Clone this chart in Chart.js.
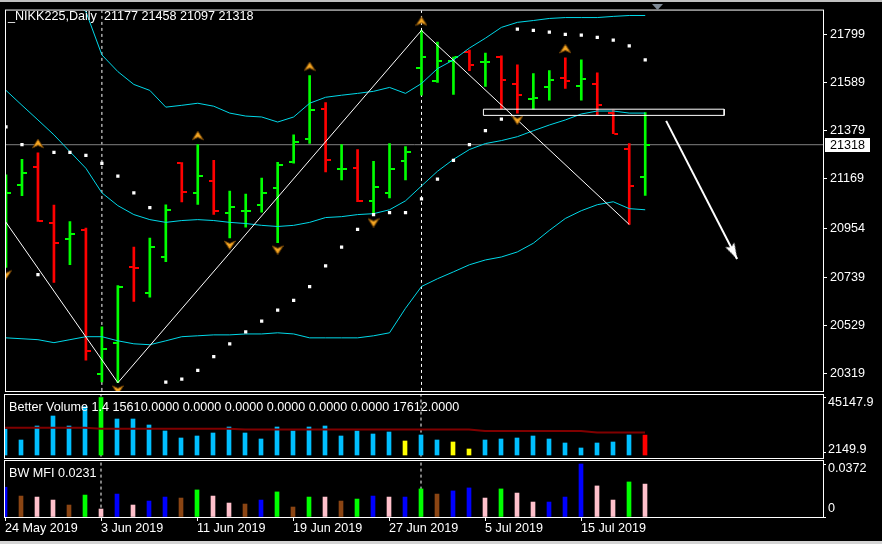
<!DOCTYPE html>
<html><head><meta charset="utf-8">
<script src="https://cdn.jsdelivr.net/npm/chart.js@4.4.1/dist/chart.umd.min.js"></script>
<style>
html,body{margin:0;padding:0;background:#000;}
#wrap{position:relative;width:882px;height:544px;background:#000;overflow:hidden;}
canvas{position:absolute;left:0;top:0;}
</style></head><body>
<div id="wrap">
<canvas id="cMain" width="882" height="544"></canvas>
<canvas id="cVol" width="882" height="544"></canvas>
<canvas id="cMfi" width="882" height="544"></canvas>
</div>
<script>
// ---------------- DATA ----------------
const symbol = '_NIKK225,Daily';
const dateTickIdx = [0, 6, 12, 18, 24, 30, 36];
const dateTickLabels = ['24 May 2019','3 Jun 2019','11 Jun 2019','19 Jun 2019','27 Jun 2019','5 Jul 2019','15 Jul 2019'];
const priceTicks = [21799, 21589, 21379, 21169, 20954, 20739, 20529, 20319];

const opens  = [20950,21141,21222,20976,20907,20945,20316,20452,20784,20669,20828,21238,21109,21161,21022,21027,21053,21130,21242,21341,21476,21211,21215,21073,21106,21245,21654,21598,21684,21722,21678,21701,21581,21519,21568,21611,21576,21585,21456,21301,21177];
const highs  = [21186,21254,21283,21055,20983,20954,20523,20703,20871,20910,21056,21240,21318,21250,21116,21103,21172,21241,21361,21620,21502,21318,21297,21245,21323,21310,21817,21766,21701,21731,21718,21706,21667,21628,21641,21697,21688,21632,21469,21323,21458];
const lows   = [20782,21096,20983,20717,20794,20378,20283,20279,20634,20653,20808,21068,21057,21014,20911,20958,21023,20890,21237,21324,21199,21164,21069,21009,21086,21164,21534,21590,21538,21641,21572,21474,21456,21473,21512,21564,21512,21447,21366,20970,21097];
const closes = [21108,21195,20984,20890,20928,20418,20425,20695,20780,20872,21031,21113,21182,21027,21044,21029,21109,21228,21328,21470,21251,21213,21073,21133,21211,21288,21701,21684,21700,21667,21680,21602,21534,21521,21602,21594,21606,21490,21366,21138,21318];

const bbUpper  = [22054,22033,22011,21985,21951,21899,21710,21637,21581,21555,21482,21490,21499,21486,21456,21443,21439,21417,21439,21499,21525,21534,21542,21551,21568,21542,21585,21650,21688,21740,21783,21830,21852,21860,21869,21873,21873,21873,21878,21882,21882];
const bbMiddle = [21555,21490,21426,21361,21288,21215,21108,21052,21013,20991,20979,20987,20991,20987,20979,20974,20966,20961,20966,20979,21000,21004,21013,21017,21034,21073,21138,21202,21254,21297,21323,21336,21353,21379,21404,21426,21452,21465,21465,21456,21456];
const bbLower  = [20475,20471,20467,20454,20467,20480,20480,20462,20449,20445,20462,20480,20484,20488,20488,20492,20492,20497,20492,20475,20475,20475,20475,20484,20497,20604,20699,20733,20763,20794,20815,20828,20850,20888,20944,20996,21030,21056,21069,21039,21034];
const sar      = [21396,21318,20751,21284,21284,21271,21237,21181,21108,21043,20282,20295,20333,20393,20449,20501,20548,20596,20639,20699,20789,20871,20948,21013,21022,21022,21082,21168,21250,21318,21379,21430,21822,21817,21809,21800,21796,21787,21774,21749,21688];

const zigzagIdx   = [-3, 7, 26, 39];
const zigzagPrice = [21279, 20279, 21817, 20970];
const fractalUpIdx   = [2, 12, 19, 26, 35];
const fractalDownIdx = [0, 7, 14, 17, 23, 32];
const separatorIdx = [6, 26];
const boxIdx   = [29.875, 44.94];
const boxPrice = [21473, 21446];
const arrowIdx   = [41.31, 45.75];
const arrowPrice = [21422, 20819];

const betterVolume = [20415,11778,22771,30623,22771,37925,45148,28267,28267,23556,18845,13348,14919,17274,21986,17274,12563,21986,18845,21986,22771,14919,18845,16489,18060,10993,15704,11778,10208,4711,11778,12563,13348,14919,12563,9422,5496,9422,10208,15704,15610];
const betterVolumeAvg = [21436,21436,21436,21436,21436,21436,20651,20651,20651,20651,20651,20651,20651,20651,20651,20023,20023,20023,20023,20023,20023,20023,20023,20023,20023,20023,20023,20023,20023,20023,18845,18845,18845,18845,18845,18845,18845,17612,17612,17612,17612];
const betterVolumeType = 'BBBBBBGBBBBBBBBBBBBBBBBBBYBBYYBBBBBBBBBBR'.split('');
const volScaleValues = [45147.9, 2149.9];
const volScaleLabels = ['45147.9', '2149.9'];

const mfi = [0.0209,0.0147,0.0140,0.0119,0.0084,0.0154,0.0056,0.0161,0.0084,0.0112,0.0140,0.0133,0.0190,0.0147,0.0098,0.0091,0.0119,0.0176,0.0070,0.0140,0.0140,0.0112,0.0126,0.0147,0.0140,0.0140,0.0197,0.0161,0.0183,0.0204,0.0133,0.0197,0.0168,0.0105,0.0105,0.0140,0.0372,0.0218,0.0119,0.0246,0.0231];
const mfiType = 'KFSSFGSKSKKFGSSFKGFGSFGKSKGFKKSGSSKKKSSGS'.split('');
const mfiScaleValues = [0.0372, 0];
const mfiScaleLabels = ['0.0372', '0'];

// ---------------- STYLE ----------------
const FONT = 'Liberation Sans';
const FS = 12.6;
Chart.defaults.font.family = FONT;
Chart.defaults.font.size = FS;
Chart.defaults.color = '#ffffff';
const X_MIN = 0, X_MAX = 51.125;
const UP = '#00ff00', DN = '#ff0000', BAND = '#00d8e8';
const volColors = {B:'#00bfff', G:'#00ff00', Y:'#ffff00', R:'#ff0000'};
const mfiColors = {G:'#00ff00', F:'#8b4513', K:'#0000ff', S:'#ffc0cb'};

const idx = opens.map((_, i) => i);
const last = opens.length - 1;
const isUp = i => closes[i] >= opens[i];

function mk(w, h, fn) { const c = document.createElement('canvas'); c.width = w; c.height = h; fn(c.getContext('2d')); return c; }
const tickImg = {
  upL: mk(10, 2, g => { g.fillStyle = UP; g.fillRect(0, 0, 4, 2); }),
  upR: mk(10, 2, g => { g.fillStyle = UP; g.fillRect(6, 0, 4, 2); }),
  dnL: mk(10, 2, g => { g.fillStyle = DN; g.fillRect(0, 0, 4, 2); }),
  dnR: mk(10, 2, g => { g.fillStyle = DN; g.fillRect(6, 0, 4, 2); })
};
function arrowShape(g, pts) {
  g.beginPath(); g.moveTo(pts[0][0], pts[0][1]);
  for (let k = 1; k < pts.length; k++) g.lineTo(pts[k][0], pts[k][1]);
  g.closePath();
  g.fillStyle = '#f5a623'; g.fill();
  g.strokeStyle = '#7a4a08'; g.lineWidth = 1; g.stroke();
}
const fracUpImg = mk(12, 28, g => arrowShape(g, [[6,0.5],[11.5,9],[6,6.5],[0.5,9]]));
const fracDnImg = mk(12, 24, g => arrowShape(g, [[6,23.5],[11.5,15],[6,17.5],[0.5,15]]));
const arrowHeadImg = mk(12, 36, g => {
  g.beginPath(); g.moveTo(6, 18); g.lineTo(11, 34); g.lineTo(6, 31); g.lineTo(1, 34); g.closePath();
  g.fillStyle = '#ffffff'; g.fill();
});

function xScale(show) {
  const s = { type: 'linear', min: X_MIN, max: X_MAX, offset: false, display: show,
    grid: { offset: false, drawOnChartArea: false, drawTicks: true, tickLength: 4, color: '#ffffff' },
    border: { display: false } };
  if (show) {
    s.afterBuildTicks = sc => { sc.ticks = dateTickIdx.map(v => ({ value: v })); };
    s.afterFit = sc => { sc.height = 27; };
    s.ticks = { align: 'start', padding: 0, maxRotation: 0, autoSkip: false, color: '#ffffff',
      font: { family: FONT, size: FS }, callback: (v, i) => dateTickLabels[i] };
  }
  return s;
}
function separators(yLo, yHi) {
  return separatorIdx.map(s => ({ type: 'line', data: [{x: s, y: yLo}, {x: s, y: yHi}], borderColor: '#ffffff',
    borderWidth: 1, borderDash: [3, 3], pointRadius: 0, order: 100 }));
}
function frame(ctx, a) {
  ctx.strokeStyle = '#ffffff'; ctx.lineWidth = 1;
  ctx.strokeRect(a.left - 0.5, a.top - 0.5, a.right - a.left + 1, a.bottom - a.top + 1);
}
const baseOpts = { responsive: false, maintainAspectRatio: false, animation: false, events: [],
  plugins: { legend: { display: false }, tooltip: { enabled: false } } };

// ---------------- MAIN CHART ----------------
const title = `${symbol}  ${opens[last]} ${highs[last]} ${lows[last]} ${closes[last]}`;
const mainPlugin = {
  id: 'mainDecor',
  afterDraw(chart) {
    const { ctx, chartArea: a, scales: { y } } = chart;
    ctx.save();
    // window edges
    ctx.fillStyle = '#c0c0c0'; ctx.fillRect(0, 0, 882, 2);
    ctx.fillStyle = '#d4d4d4'; ctx.fillRect(0, 541, 882, 3);
    frame(ctx, a);
    ctx.font = `${FS}px ${FONT}`; ctx.fillStyle = '#ffffff'; ctx.textBaseline = 'alphabetic'; ctx.textAlign = 'left';
    ctx.fillText(title, 8, 19.5);
    // chart-shift marker
    ctx.fillStyle = '#7f8a96';
    ctx.beginPath(); ctx.moveTo(652, 4); ctx.lineTo(663, 4); ctx.lineTo(657.5, 10); ctx.closePath(); ctx.fill();
    // current price label
    const py = y.getPixelForValue(closes[last]);
    ctx.fillStyle = '#ffffff'; ctx.fillRect(825, Math.round(py) - 7, 45, 14);
    ctx.fillStyle = '#000000'; ctx.textBaseline = 'middle';
    ctx.fillText(String(closes[last]), 830, py + 0.5);
    ctx.restore();
  }
};
new Chart(document.getElementById('cMain'), {
  type: 'bar',
  data: { datasets: [
    ...separators(0, 99999),
    { type: 'line', data: [{x: -5, y: closes[last]}, {x: 80, y: closes[last]}], borderColor: '#808080', borderWidth: 1, pointRadius: 0, order: 95 },
    { type: 'bar', data: idx.map(i => ({ x: i, y: [lows[i], highs[i]] })), backgroundColor: idx.map(i => isUp(i) ? UP : DN),
      barThickness: 2, borderWidth: 0, order: 80 },
    { type: 'line', showLine: false, data: idx.map(i => ({ x: i, y: opens[i] })), pointRadius: 1,
      pointStyle: c => isUp(c.dataIndex) ? tickImg.upL : tickImg.dnL, order: 79 },
    { type: 'line', showLine: false, data: idx.map(i => ({ x: i, y: closes[i] })), pointRadius: 1,
      pointStyle: c => isUp(c.dataIndex) ? tickImg.upR : tickImg.dnR, order: 78 },
    ...[bbUpper, bbMiddle, bbLower].map(arr => ({ type: 'line', data: idx.map(i => ({ x: i, y: arr[i] })),
      borderColor: BAND, borderWidth: 1, pointRadius: 0, tension: 0, order: 70 })),
    { type: 'line', data: zigzagIdx.map((x, k) => ({ x, y: zigzagPrice[k] })), borderColor: '#ffffff', borderWidth: 1, pointRadius: 0, order: 60 },
    { type: 'line', showLine: false, data: idx.map(i => ({ x: i, y: sar[i] })), pointStyle: 'rect', pointRadius: 2.3,
      pointBackgroundColor: '#ffffff', pointBorderWidth: 0, order: 50 },
    { type: 'line', showLine: false, data: fractalUpIdx.map(i => ({ x: i, y: highs[i] })), pointStyle: fracUpImg, pointRadius: 1, order: 40 },
    { type: 'line', showLine: false, data: fractalDownIdx.map(i => ({ x: i, y: lows[i] })), pointStyle: fracDnImg, pointRadius: 1, order: 40 },
    { type: 'line', data: [
        {x: boxIdx[0], y: boxPrice[0]}, {x: boxIdx[1], y: boxPrice[0]}, {x: boxIdx[1], y: boxPrice[1]},
        {x: boxIdx[0], y: boxPrice[1]}, {x: boxIdx[0], y: boxPrice[0]}],
      borderColor: '#ffffff', borderWidth: 1, pointRadius: 0, order: 30 },
    { type: 'line', data: arrowIdx.map((x, k) => ({ x, y: arrowPrice[k] })), borderColor: '#ffffff', borderWidth: 2,
      pointRadius: c => c.dataIndex === 1 ? 1 : 0,
      pointStyle: c => c.dataIndex === 1 ? arrowHeadImg : 'circle',
      pointRotation: c => {
        const xs = c.chart.scales.x, ys = c.chart.scales.y;
        const dx = xs.getPixelForValue(arrowIdx[1]) - xs.getPixelForValue(arrowIdx[0]);
        const dy = ys.getPixelForValue(arrowPrice[1]) - ys.getPixelForValue(arrowPrice[0]);
        return Math.atan2(dx, -dy) * 180 / Math.PI;
      }, order: 20 }
  ] },
  options: { ...baseOpts,
    layout: { padding: { left: 5, top: 5, right: 0, bottom: 153 } },
    scales: {
      x: xScale(false),
      y: { type: 'linear', position: 'right', min: 20243, max: 21903.5,
        afterFit: s => { s.width = 59; },
        afterBuildTicks: s => { s.ticks = priceTicks.map(v => ({ value: v })); },
        ticks: { padding: 3, crossAlign: 'near', autoSkip: false, color: '#ffffff', font: { family: FONT, size: FS }, callback: v => String(v) },
        grid: { drawOnChartArea: false, drawTicks: true, tickLength: 4, color: '#ffffff' },
        border: { display: false } }
    } },
  plugins: [mainPlugin]
});

// ---------------- SUB-WINDOW HELPERS ----------------
function subPlugin(name, text, vals, labels) {
  return { id: name, afterDraw(chart) {
    const { ctx, chartArea: a, scales: { y } } = chart;
    ctx.save(); frame(ctx, a);
    ctx.font = `${FS}px ${FONT}`; ctx.fillStyle = '#ffffff'; ctx.textAlign = 'left';
    ctx.textBaseline = 'alphabetic'; ctx.fillText(text, 9, a.top + 15.5);
    ctx.textBaseline = 'middle';
    vals.forEach((v, k) => {
      const p = Math.min(Math.max(y.getPixelForValue(v), a.top + 8), a.bottom - 8);
      ctx.fillText(labels[k], 828, p);
    });
    ctx.restore();
  } };
}
function subY(min, max, vals) {
  return { type: 'linear', position: 'right', min, max,
    afterFit: s => { s.width = 59; },
    afterBuildTicks: s => { s.ticks = vals.map(v => ({ value: v })); },
    ticks: { display: false },
    grid: { drawOnChartArea: false, drawTicks: true, tickLength: 3, color: '#ffffff' },
    border: { display: false } };
}

// ---------------- BETTER VOLUME ----------------
const bvText = `Better Volume 1.4 ${betterVolume[last].toFixed(4)} 0.0000 0.0000 0.0000 0.0000 0.0000 ${betterVolumeAvg[last].toFixed(4)}`;
new Chart(document.getElementById('cVol'), {
  type: 'bar',
  data: { datasets: [
    ...separators(-1e6, 1e6),
    { type: 'bar', data: idx.map(i => ({ x: i, y: betterVolume[i] })), backgroundColor: idx.map(i => volColors[betterVolumeType[i]]),
      barThickness: 4, borderWidth: 0, order: 50 },
    { type: 'line', data: idx.map(i => ({ x: i, y: betterVolumeAvg[i] })), borderColor: '#800000', borderWidth: 2, pointRadius: 0, order: 40 }
  ] },
  options: { ...baseOpts,
    layout: { padding: { left: 5, top: 395, right: 0, bottom: 86 } },
    scales: { x: xScale(false), y: subY(-2356, 47112, volScaleValues) } },
  plugins: [subPlugin('volDecor', bvText, volScaleValues, volScaleLabels)]
});

// ---------------- BW MFI ----------------
const mfiText = `BW MFI ${mfi[last].toFixed(4)}`;
new Chart(document.getElementById('cMfi'), {
  type: 'bar',
  data: { datasets: [
    ...separators(-1, 1),
    { type: 'bar', data: idx.map(i => ({ x: i, y: mfi[i] })), backgroundColor: idx.map(i => mfiColors[mfiType[i]]),
      barThickness: 4, borderWidth: 0, order: 50 }
  ] },
  options: { ...baseOpts,
    layout: { padding: { left: 5, top: 461, right: 0, bottom: 0 } },
    scales: { x: xScale(true), y: subY(0, 0.03931, mfiScaleValues) } },
  plugins: [subPlugin('mfiDecor', mfiText, mfiScaleValues, mfiScaleLabels)]
});
</script>
</body></html>
